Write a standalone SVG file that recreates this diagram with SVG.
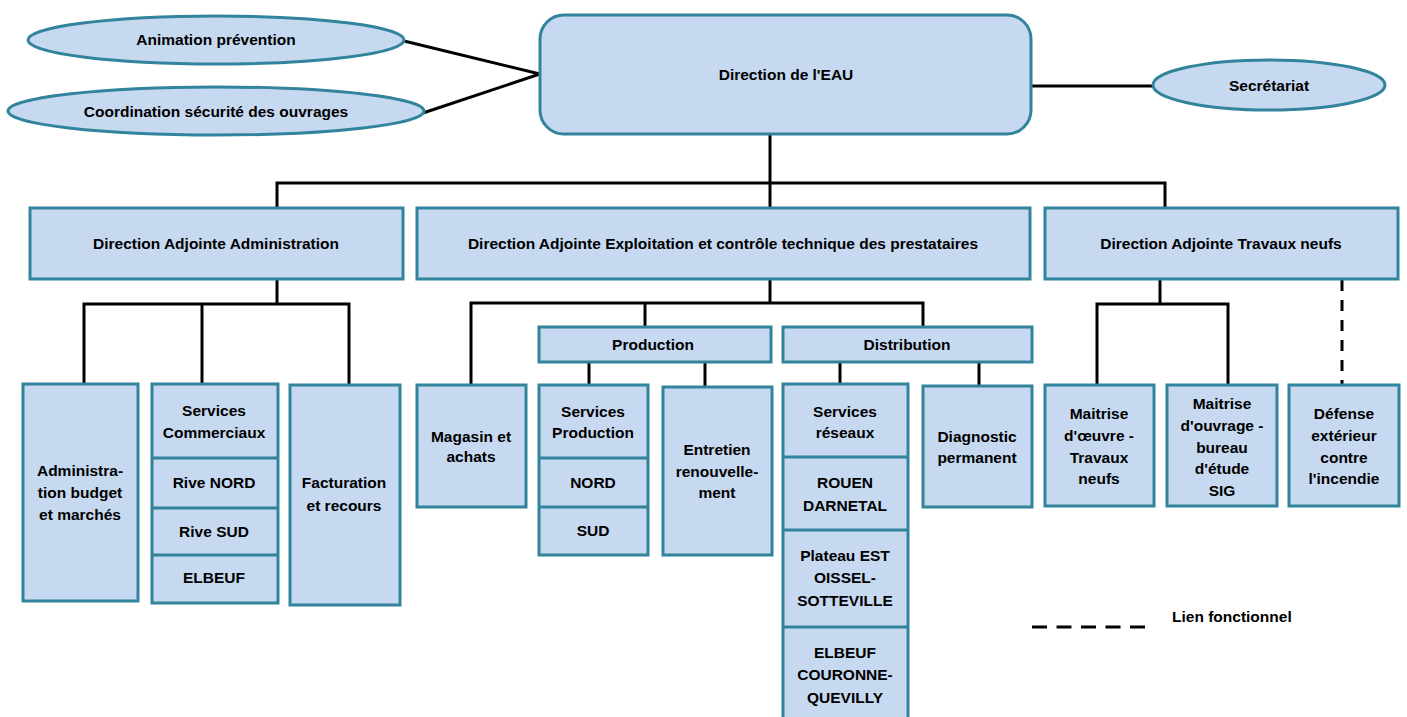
<svg xmlns="http://www.w3.org/2000/svg" width="1407" height="717" viewBox="0 0 1407 717">
<style>
.b{fill:#C6D9F0;stroke:#31849B;stroke-width:3}
.d{fill:none;stroke:#31849B;stroke-width:3}
.c{fill:none;stroke:#000;stroke-width:3}
.da{fill:none;stroke:#000;stroke-width:3;stroke-dasharray:11 9}
text{font-family:"Liberation Sans",Arial,sans-serif;font-weight:bold;font-size:15.5px;fill:#000;text-anchor:middle}
.l{text-anchor:start}
</style>
<rect width="1407" height="717" fill="#fff"/>
<g id="connectors">
<polyline class="c" points="404,41 540,74 423,113"/>
<line class="c" x1="1031" y1="86" x2="1153" y2="86"/>
<polyline class="c" points="770,134 770,183"/>
<polyline class="c" points="277,208 277,183 1165,183 1165,208"/>
<line class="c" x1="770" y1="183" x2="770" y2="208"/>
<polyline class="c" points="84,384 84,304 349,304 349,385"/>
<line class="c" x1="277" y1="279" x2="277" y2="304"/>
<line class="c" x1="202" y1="304" x2="202" y2="384"/>
<line class="c" x1="770" y1="279" x2="770" y2="303"/>
<polyline class="c" points="471,385 471,303 923,303 923,327"/>
<line class="c" x1="645" y1="303" x2="645" y2="327"/>
<line class="c" x1="589" y1="362" x2="589" y2="385"/>
<line class="c" x1="705" y1="362" x2="705" y2="387"/>
<line class="c" x1="840" y1="362" x2="840" y2="384"/>
<line class="c" x1="979" y1="362" x2="979" y2="386"/>
<line class="c" x1="1160" y1="279" x2="1160" y2="304"/>
<polyline class="c" points="1097,385 1097,304 1228,304 1228,385"/>
<line class="da" x1="1342" y1="280" x2="1342" y2="385"/>
</g>
<g id="n-animation"><ellipse class="b" cx="216" cy="40" rx="188" ry="24"/><text x="216" y="45">Animation prévention</text></g>
<g id="n-coordination"><ellipse class="b" cx="216" cy="111" rx="208" ry="24"/><text x="216" y="117">Coordination sécurité des ouvrages</text></g>
<g id="n-direction"><rect class="b" x="540" y="15" width="491" height="119" rx="24"/><text x="786" y="80">Direction de l'EAU</text></g>
<g id="n-secretariat"><ellipse class="b" cx="1269" cy="85" rx="116" ry="25"/><text x="1269" y="91">Secrétariat</text></g>
<g id="n-da-admin"><rect class="b" x="30" y="208" width="373" height="71"/><text x="216" y="249">Direction Adjointe Administration</text></g>
<g id="n-da-exploit"><rect class="b" x="417" y="208" width="613" height="71"/><text x="723" y="249">Direction Adjointe Exploitation et contrôle technique des prestataires</text></g>
<g id="n-da-travaux"><rect class="b" x="1045" y="208" width="353" height="71"/><text x="1221" y="249">Direction Adjointe Travaux neufs</text></g>
<g id="n-admin-budget"><rect class="b" x="23" y="384" width="115" height="217"/><text x="80" y="476">Administra-</text><text x="80" y="498">tion budget</text><text x="80" y="520">et marchés</text></g>
<g id="n-services-commerciaux"><rect class="b" x="152" y="384" width="126" height="219"/><line class="d" x1="152" y1="458" x2="278" y2="458"/><line class="d" x1="152" y1="508" x2="278" y2="508"/><line class="d" x1="152" y1="555" x2="278" y2="555"/>
<text x="214" y="416">Services</text><text x="214" y="438">Commerciaux</text><text x="214" y="488">Rive NORD</text><text x="214" y="537">Rive SUD</text><text x="214" y="583">ELBEUF</text></g>
<g id="n-facturation"><rect class="b" x="290" y="385" width="110" height="220"/><text x="344" y="488">Facturation</text><text x="344" y="511">et recours</text></g>
<g id="n-production"><rect class="b" x="539" y="327" width="232" height="35"/><text x="653" y="350">Production</text></g>
<g id="n-distribution"><rect class="b" x="783" y="327" width="249" height="35"/><text x="907" y="350">Distribution</text></g>
<g id="n-magasin"><rect class="b" x="417" y="385" width="109" height="122"/><text x="471" y="442">Magasin et</text><text x="471" y="462">achats</text></g>
<g id="n-services-production"><rect class="b" x="539" y="385" width="109" height="170"/><line class="d" x1="539" y1="458" x2="648" y2="458"/><line class="d" x1="539" y1="507" x2="648" y2="507"/>
<text x="593" y="417">Services</text><text x="593" y="438">Production</text><text x="593" y="488">NORD</text><text x="593" y="536">SUD</text></g>
<g id="n-entretien"><rect class="b" x="663" y="387" width="109" height="168"/><text x="717" y="455">Entretien</text><text x="717" y="477">renouvelle-</text><text x="717" y="498">ment</text></g>
<g id="n-services-reseaux"><rect class="b" x="783" y="384" width="125" height="350"/><line class="d" x1="783" y1="457" x2="908" y2="457"/><line class="d" x1="783" y1="530" x2="908" y2="530"/><line class="d" x1="783" y1="627" x2="908" y2="627"/>
<text x="845" y="417">Services</text><text x="845" y="438">réseaux</text><text x="845" y="488">ROUEN</text><text x="845" y="511">DARNETAL</text><text x="845" y="561">Plateau EST</text><text x="845" y="583">OISSEL-</text><text x="845" y="606">SOTTEVILLE</text><text x="845" y="658">ELBEUF</text><text x="845" y="680">COURONNE-</text><text x="845" y="703">QUEVILLY</text></g>
<g id="n-diagnostic"><rect class="b" x="923" y="386" width="109" height="121"/><text x="977" y="442">Diagnostic</text><text x="977" y="463">permanent</text></g>
<g id="n-maitrise-oeuvre"><rect class="b" x="1045" y="385" width="109" height="121"/><text x="1099" y="419">Maitrise</text><text x="1099" y="441">d'œuvre -</text><text x="1099" y="463">Travaux</text><text x="1099" y="484">neufs</text></g>
<g id="n-maitrise-ouvrage"><rect class="b" x="1167" y="385" width="110" height="121"/><text x="1222" y="409">Maitrise</text><text x="1222" y="431">d'ouvrage -</text><text x="1222" y="453">bureau</text><text x="1222" y="474">d'étude</text><text x="1222" y="496">SIG</text></g>
<g id="n-defense"><rect class="b" x="1289" y="385" width="110" height="121"/><text x="1344" y="419">Défense</text><text x="1344" y="441">extérieur</text><text x="1344" y="463">contre</text><text x="1344" y="484">l'incendie</text></g>
<g id="legend"><line x1="1032" y1="627" x2="1145" y2="627" stroke="#000" stroke-width="3" stroke-dasharray="15 9.5"/><text class="l" x="1172" y="622">Lien fonctionnel</text></g>
</svg>
